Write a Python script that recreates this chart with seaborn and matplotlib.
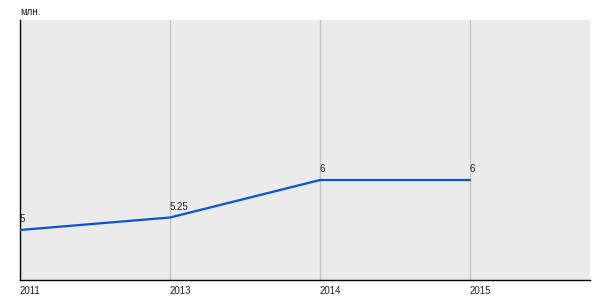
import matplotlib
matplotlib.use("Agg")
import matplotlib.pyplot as plt
import seaborn as sns
import pandas as pd

years = ["2011", "2013", "2014", "2015"]
values = [5, 5.25, 6, 6]
value_labels = ["5", "5.25", "6", "6"]
unit_label = "млн."

sns.set_style("white", {"axes.facecolor": "#ebebeb"})
plt.rcParams["font.family"] = ["Liberation Sans", "DejaVu Sans"]

df = pd.DataFrame({"idx": range(len(years)), "year": years, "value": values})

fig = plt.figure(figsize=(6, 3), dpi=100)
ax = fig.add_axes([20/600, 20/300, 570/600, 260/300])
ax.set_facecolor("#ebebeb")

sns.lineplot(data=df, x="idx", y="value", ax=ax, color="#0a4fe0", linewidth=1.6, zorder=3)

for i, (v, lab) in enumerate(zip(values, value_labels)):
    ax.annotate(lab, (i, v), xytext=(0, 4), textcoords="offset points",
                ha="left", va="bottom", fontsize=7, color="#222222", zorder=4)

ax.set_xlim(0, 3.8)
ax.set_ylim(4, 9.2)
ax.set_xticks(range(len(years)))
ax.set_xticklabels(years, ha="left", fontsize=7, color="#222222")
ax.tick_params(axis="x", length=0, pad=4)
ax.set_yticks([])
ax.set_xlabel("")
ax.set_ylabel("")

for i in range(1, len(years)):
    ax.axvline(i, color="#c4c4c4", linewidth=1, zorder=1)

for s in ["top", "right"]:
    ax.spines[s].set_visible(False)
for s in ["left", "bottom"]:
    ax.spines[s].set_visible(True)
    ax.spines[s].set_color("black")
    ax.spines[s].set_linewidth(1)

fig.text(20/600, 1 - 12/300, unit_label, ha="left", va="center", fontsize=7, color="#222222")

fig.savefig("out.png", dpi=100)
